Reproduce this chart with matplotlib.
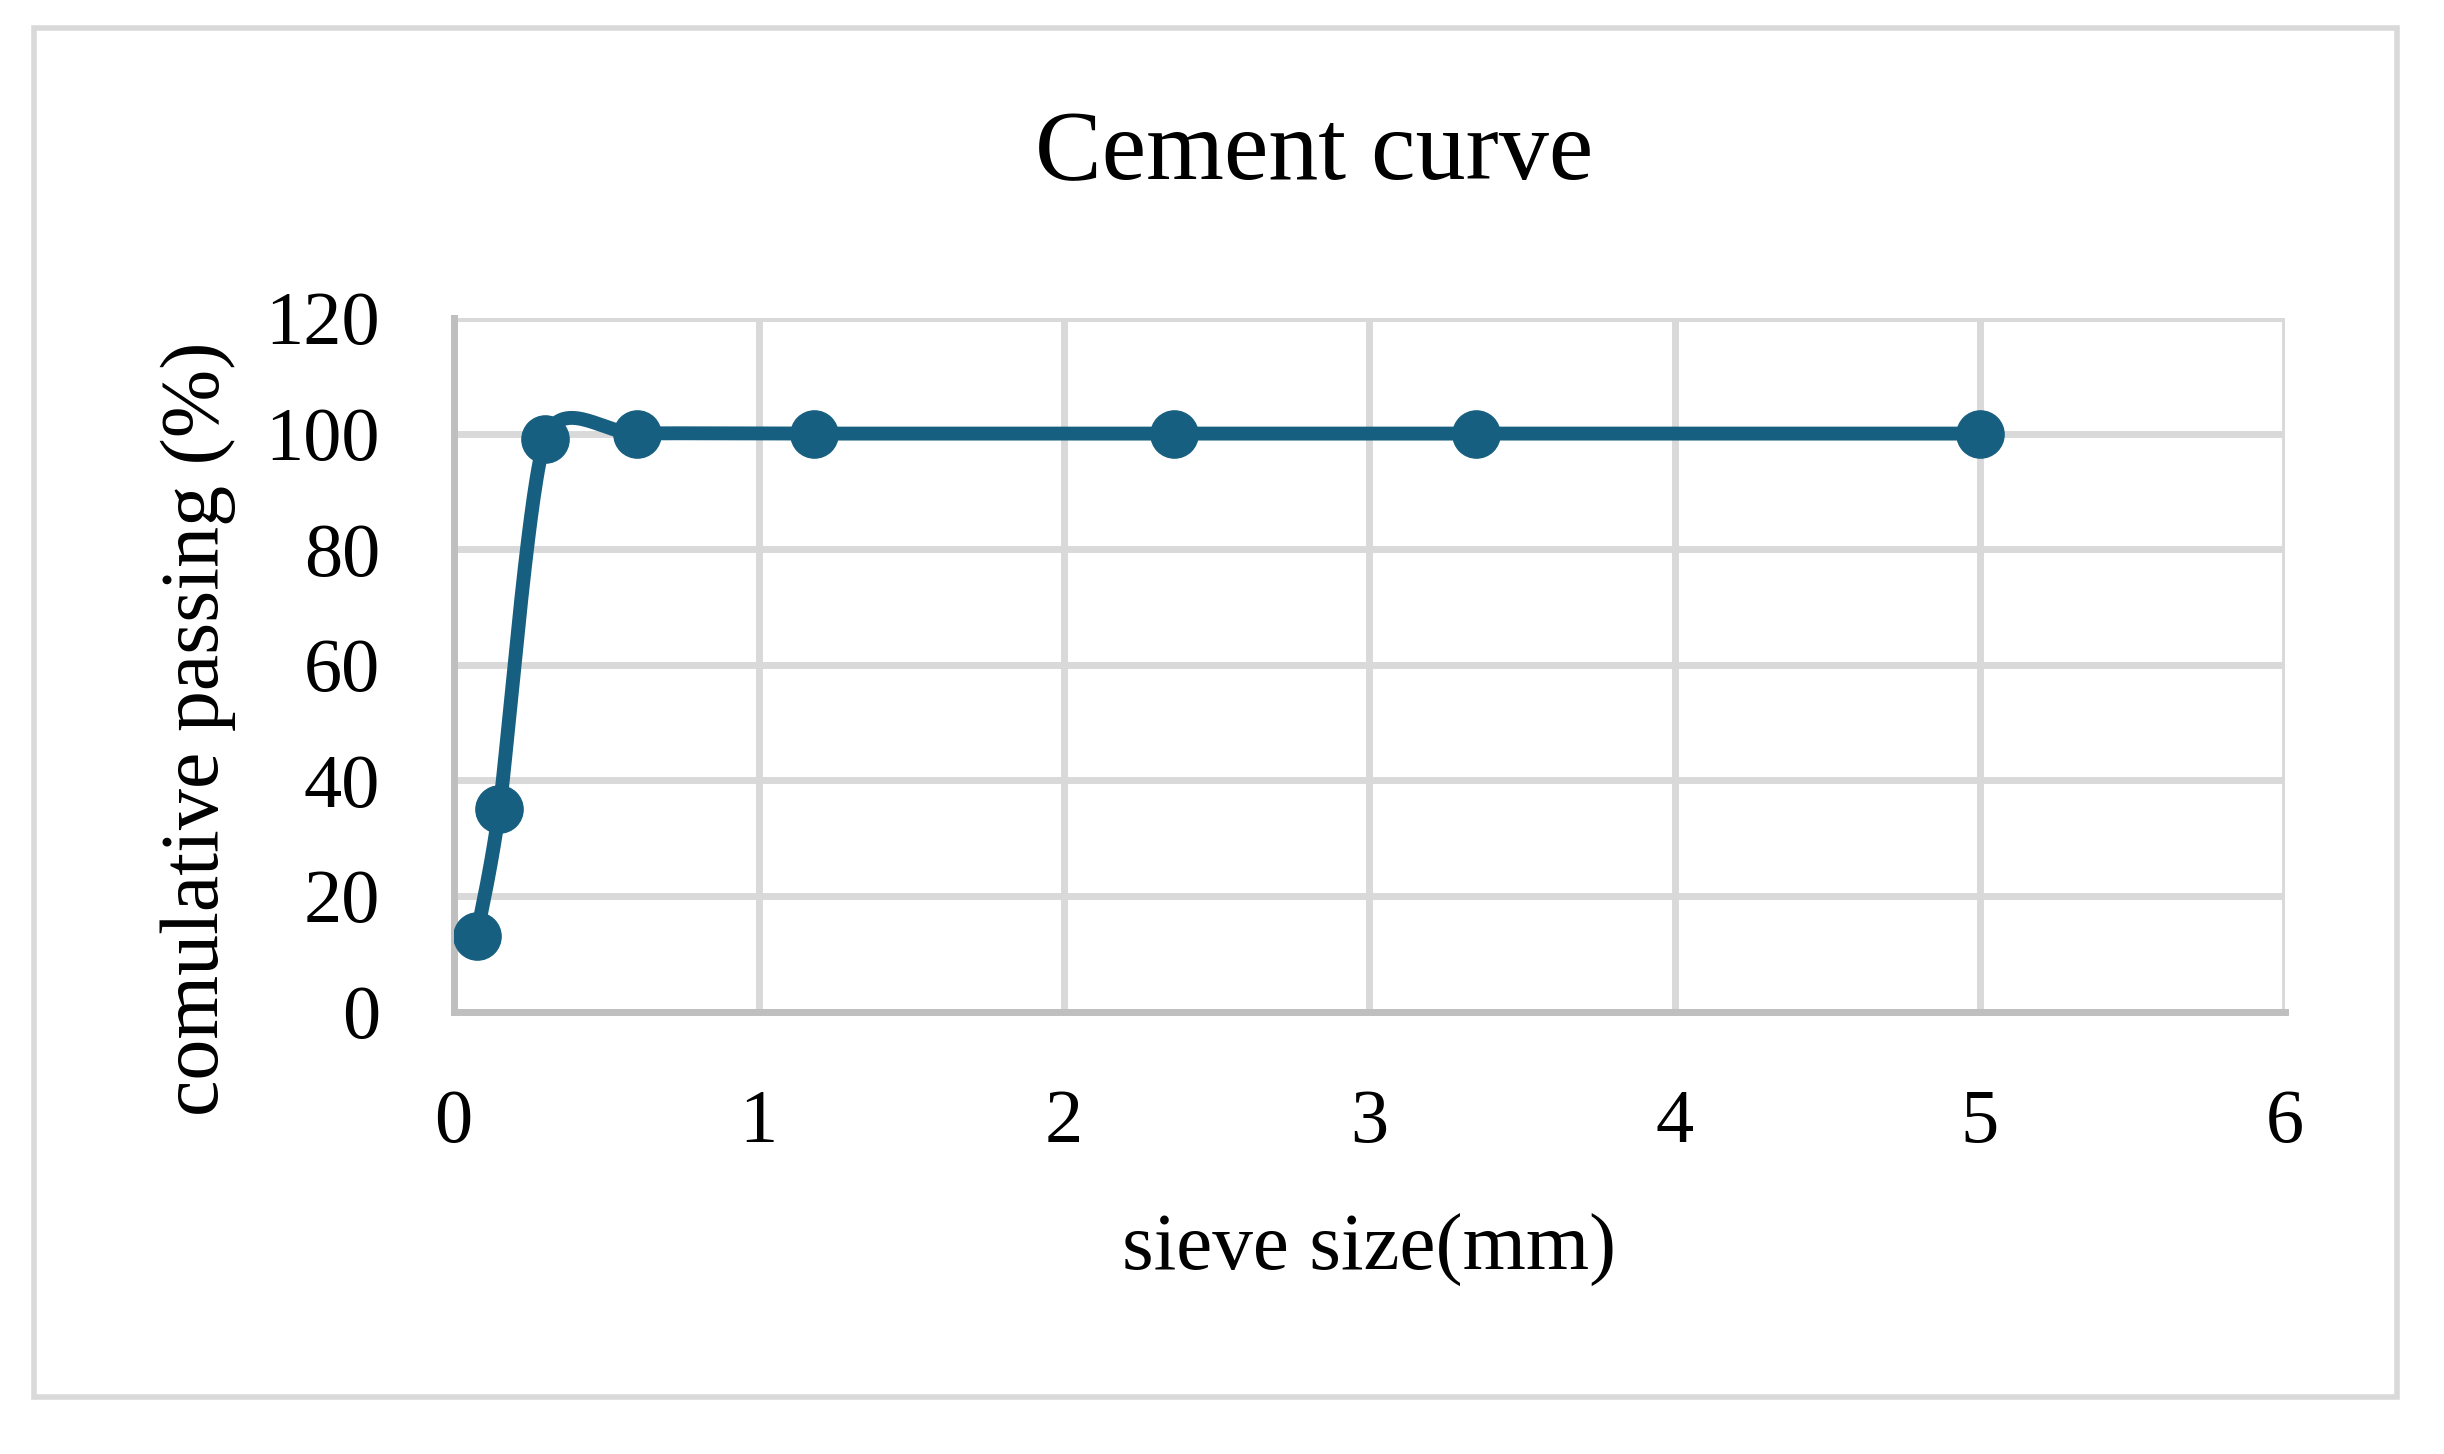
import matplotlib
matplotlib.use("Agg")
import matplotlib.pyplot as plt
import numpy as np
from matplotlib.patches import Rectangle

# sieve analysis of cement
sieve_mm = [0.075, 0.15, 0.3, 0.6, 1.18, 2.36, 3.35, 5.0]
passing = [13, 35, 99, 100, 100, 100, 100, 100]

x_ticks = [0, 1, 2, 3, 4, 5, 6]
y_ticks = [0, 20, 40, 60, 80, 100, 120]

line_color = '#175f80'
grid_color = '#d9d9d9'
axis_color = '#bfbfbf'


def smooth_curve(xs, ys, k=0.12, n=60):
    """Excel-like smoothed line: cubic bezier through the points."""
    p = np.column_stack([xs, ys]).astype(float)
    pts = np.vstack([p[0], p, p[-1]])
    out = []
    t = np.linspace(0, 1, n)[:, None]
    for i in range(1, len(pts) - 2):
        p0, p1, p2, p3 = pts[i - 1], pts[i], pts[i + 1], pts[i + 2]
        c1 = p1 + (p2 - p0) * k
        c2 = p2 - (p3 - p1) * k
        seg = ((1 - t) ** 3) * p1 + 3 * ((1 - t) ** 2) * t * c1 + 3 * (1 - t) * t ** 2 * c2 + t ** 3 * p2
        out.append(seg)
    out = np.vstack(out)
    return out[:, 0], out[:, 1]


plt.rcParams['font.family'] = ['Liberation Serif', 'DejaVu Serif']

fig = plt.figure(figsize=(24.44, 14.54), dpi=100)
ax = fig.add_axes([0.1856, 0.3043, 0.935 - 0.1856, 0.7813 - 0.3043])

sx, sy = smooth_curve(sieve_mm, passing)
ax.plot(sx, sy, color=line_color, linewidth=10, solid_capstyle='round', zorder=3)
ax.plot(sieve_mm, passing, 'o', color=line_color, markersize=34, zorder=4)

ax.set_xlim(0, 6)
ax.set_ylim(0, 120)
ax.set_xticks(x_ticks)
ax.set_yticks(y_ticks)
ax.grid(True, color=grid_color, linewidth=5)
ax.set_axisbelow(True)
for side in ['top', 'right']:
    ax.spines[side].set_visible(False)
for side in ['left', 'bottom']:
    ax.spines[side].set_color(axis_color)
    ax.spines[side].set_linewidth(5)
    ax.spines[side].set_zorder(2)
ax.tick_params(axis='x', length=0, pad=56, labelsize=55)
ax.tick_params(axis='y', length=0, pad=53, labelsize=55)

fig.text(0.5377, 0.893, 'Cement curve', ha='center', va='center', fontsize=72)
fig.text(0.560, 0.140, 'sieve size(mm)', ha='center', va='center', fontsize=58.5)
fig.text(0.081, 0.499, 'comulative passing (%)', ha='center', va='center',
         fontsize=59, rotation=90)

# outer chart border
fig.patches.append(Rectangle((34 / 2444, 1 - 1397 / 1454), (2397 - 34) / 2444, (1397 - 28) / 1454,
                             transform=fig.transFigure, fill=False,
                             edgecolor=grid_color, linewidth=4))

fig.savefig('out.png', dpi=100, facecolor='white')
